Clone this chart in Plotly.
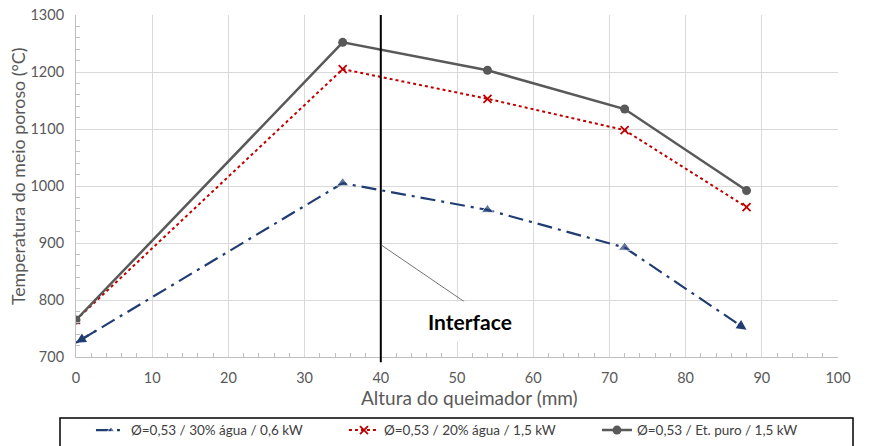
import plotly.graph_objects as go

# Burner height (mm) at the measurement points
altura = [0, 35, 54, 72, 88]

# Porous-medium temperature (°C) for each operating condition
temp_30_agua = [725, 1005, 958, 892, 748]
temp_20_agua = [765, 1205, 1153, 1098, 963]
temp_et_puro = [765, 1252, 1203, 1135, 992]

nomes = [
    "Ø=0,53 / 30% água / 0,6 kW",
    "Ø=0,53 / 20% água / 1,5 kW",
    "Ø=0,53 / Et. puro / 1,5 kW",
]

interface_x = 40
interface_ponto_y = 897
font_family = "Lato, 'Open Sans', sans-serif"
gray_text = "#595959"
azul = "#203D73"
vermelho = "#C00000"
cinza = "#595959"

fig = go.Figure()

# Blue series: triangles at inner points, arrow heads at both ends
fig.add_trace(go.Scatter(
    x=altura, y=temp_30_agua, name=nomes[0], mode="lines+markers",
    line=dict(color=azul, width=2.2, dash="longdashdot"),
    marker=dict(symbol="triangle-up", size=[0, 11, 11, 11, 0], color=azul),
))
for i0, i1 in [(1, 0), (3, 4)]:
    fig.add_annotation(
        x=altura[i1], y=temp_30_agua[i1], xref="x", yref="y",
        ax=altura[i1] + 0.08 * (altura[i0] - altura[i1]),
        ay=temp_30_agua[i1] + 0.08 * (temp_30_agua[i0] - temp_30_agua[i1]),
        axref="x", ayref="y", text="", showarrow=True,
        arrowhead=2, arrowsize=0.9, arrowwidth=2.2, arrowcolor=azul,
    )

fig.add_trace(go.Scatter(
    x=altura, y=temp_20_agua, name=nomes[1], mode="lines+markers",
    line=dict(color=vermelho, width=2, dash="dot"),
    marker=dict(symbol="x-thin", size=8, color=vermelho,
                line=dict(color=vermelho, width=1.8)),
))
fig.add_trace(go.Scatter(
    x=altura, y=temp_et_puro, name=nomes[2], mode="lines+markers",
    line=dict(color=cinza, width=2.5),
    marker=dict(symbol="circle", size=9, color=cinza),
))

# Vertical line marking the interface between the porous layers
fig.add_shape(type="line", xref="x", yref="paper",
              x0=interface_x, x1=interface_x, y0=-0.015, y1=1,
              line=dict(color="black", width=2))

# Label with its leader line
fig.add_annotation(
    x=interface_x, y=interface_ponto_y, xref="x", yref="y",
    text="", showarrow=True, arrowhead=0, arrowwidth=0.8,
    arrowcolor="#505050", ax=85, ay=58, axref="pixel", ayref="pixel",
)
fig.add_annotation(
    x=51.7, y=763, xref="x", yref="y",
    text="<b>Interface</b>", showarrow=False,
    font=dict(family=font_family, size=21, color="black"),
    bgcolor="white", borderpad=7,
)

# Axis titles
fig.add_annotation(
    x=0.517, y=-0.117, xref="paper", yref="paper", showarrow=False,
    text="Altura do queimador (mm)", xanchor="center", yanchor="middle",
    font=dict(family=font_family, size=19, color=gray_text),
)
fig.add_annotation(
    x=-0.0761, y=0.529, xref="paper", yref="paper", showarrow=False,
    text="Temperatura do meio poroso (°C)", textangle=-90,
    xanchor="center", yanchor="middle",
    font=dict(family=font_family, size=17.8, color=gray_text),
)

# Frame around the legend
fig.add_shape(type="rect", xref="paper", yref="paper",
              x0=-0.021, x1=1.0197, y0=-0.30, y1=-0.178,
              line=dict(color="black", width=1.5), fillcolor="white", layer="below")

fig.update_xaxes(
    range=[0, 100], dtick=10, showgrid=True, gridcolor="#D9D9D9", gridwidth=1,
    showline=True, linecolor="#BFBFBF", linewidth=1, zeroline=False,
    ticks="", ticklabelstandoff=8,
    tickfont=dict(family=font_family, size=14.5, color=gray_text),
    minor=dict(dtick=2, ticks="inside", ticklen=4, tickcolor="#BFBFBF", showgrid=False),
)
fig.update_yaxes(
    range=[700, 1300], dtick=100, showgrid=True, gridcolor="#D9D9D9", gridwidth=1,
    showline=True, linecolor="#BFBFBF", linewidth=1, zeroline=False,
    ticks="", ticklabelstandoff=8,
    tickfont=dict(family=font_family, size=14.5, color=gray_text),
    minor=dict(dtick=20, ticks="inside", ticklen=4, tickcolor="#BFBFBF", showgrid=False),
)

fig.update_layout(
    width=879, height=446,
    margin=dict(l=76, r=41, t=15, b=89, autoexpand=False),
    plot_bgcolor="white", paper_bgcolor="white",
    font=dict(family=font_family),
    showlegend=True,
    legend=dict(
        orientation="h", x=1.0157, xanchor="right", y=-0.169, yanchor="top",
        borderwidth=0, bgcolor="rgba(0,0,0,0)",
        font=dict(family=font_family, size=13.5, color="#404040"),
        entrywidth=208, entrywidthmode="pixels", tracegroupgap=0,
    ),
)

fig.write_html("out.html")
